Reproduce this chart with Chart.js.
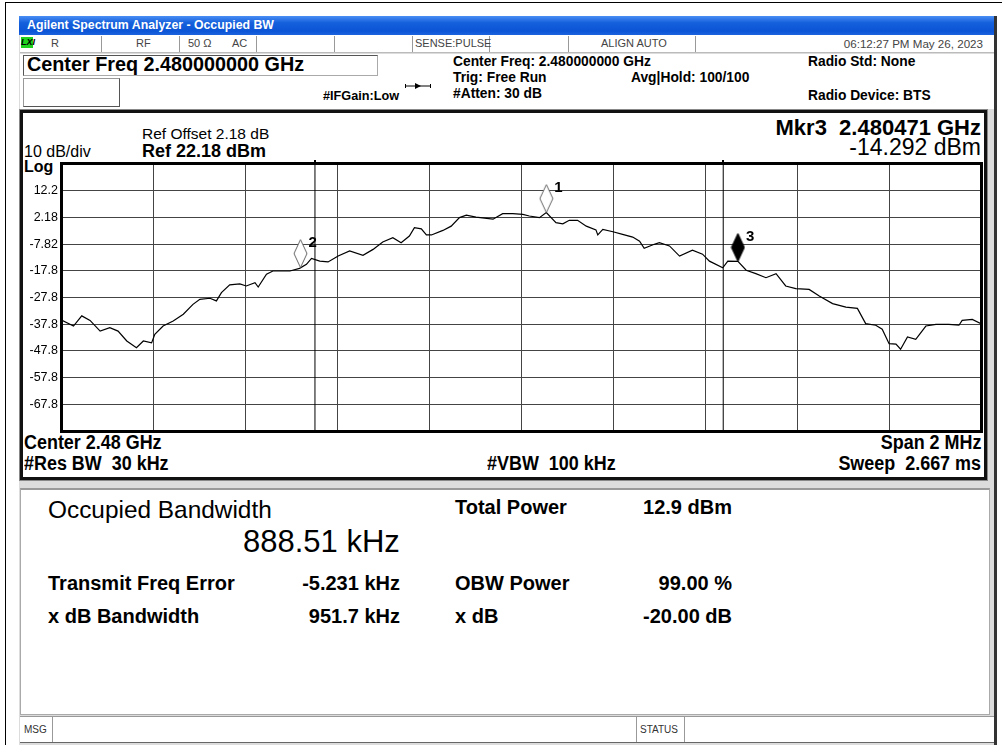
<!DOCTYPE html>
<html>
<head>
<meta charset="utf-8">
<title>Occupied BW</title>
<script src="https://cdn.jsdelivr.net/npm/chart.js@4.4.1/dist/chart.umd.min.js"></script>
<style>
body{margin:0;width:1002px;height:745px;background:#fff;position:relative;overflow:hidden;font-family:"Liberation Sans",Arial,sans-serif;color:#000;}
.t{position:absolute;white-space:pre;line-height:1;}
.b{font-weight:bold;}
.n{font-size:19.5px;font-weight:bold;transform:scaleX(0.92);transform-origin:left center;}
.nr{transform-origin:right center;}
.box{position:absolute;box-sizing:border-box;}
</style>
</head>
<body>
<!-- outer page lines -->
<div class="box" style="left:5px;top:2px;width:1000px;height:750px;border-left:1px solid #000;border-top:1px solid #000;"></div>
<!-- analyzer window -->
<div class="box" style="left:19px;top:16px;width:978px;height:735px;background:#dcdcdc;border-right:3px solid #333;"></div>
<div class="box" style="left:19px;top:16px;width:975px;height:19px;background:linear-gradient(#4a8ef5,#1560dc 35%,#0b55d6 80%,#1b62de);"></div>
<div class="t b" style="left:27px;top:19px;font-size:12.3px;color:#fff;">Agilent Spectrum Analyzer - Occupied BW</div>
<!-- status row -->
<div class="box" style="left:20px;top:35px;width:974px;height:18px;background:#fff;border-bottom:1px solid #bbb;"></div>
<div class="box" style="left:21px;top:37px;width:12px;height:11px;background:#1ed21e;"></div>
<div class="t b" style="left:21px;top:38px;font-size:9px;font-style:italic;">LXI</div>
<div class="box" style="left:101px;top:36px;width:1px;height:16px;background:#999;"></div>
<div class="box" style="left:179px;top:36px;width:1px;height:16px;background:#999;"></div>
<div class="box" style="left:256px;top:36px;width:1px;height:16px;background:#999;"></div>
<div class="box" style="left:334px;top:36px;width:1px;height:16px;background:#999;"></div>
<div class="box" style="left:412px;top:36px;width:1px;height:16px;background:#999;"></div>
<div class="box" style="left:489px;top:36px;width:1px;height:16px;background:#999;"></div>
<div class="box" style="left:568px;top:36px;width:1px;height:16px;background:#999;"></div>
<div class="box" style="left:695px;top:36px;width:1px;height:16px;background:#999;"></div>
<div class="t" style="left:51px;top:38px;font-size:11px;color:#444;">R</div>
<div class="t" style="left:136px;top:38px;font-size:11px;color:#444;">RF</div>
<div class="t" style="left:188px;top:38px;font-size:11px;color:#444;">50 Ω</div>
<div class="t" style="left:232px;top:38px;font-size:11px;color:#444;">AC</div>
<div class="t" style="left:415px;top:38px;font-size:11px;color:#444;">SENSE:PULSE</div>
<div class="t" style="left:601px;top:38px;font-size:11px;color:#444;">ALIGN AUTO</div>
<div class="t" style="right:19px;top:38px;font-size:11.6px;color:#444;">06:12:27 PM May 26, 2023</div>
<!-- header area -->
<div class="box" style="left:20px;top:54px;width:974px;height:55px;background:#fff;"></div>
<div class="box" style="left:23px;top:55px;width:355px;height:21px;border:1px solid #555;border-right-color:#aaa;border-bottom-color:#aaa;"></div>
<div class="t b" style="left:27px;top:55px;font-size:19.8px;">Center Freq 2.480000000 GHz</div>
<div class="box" style="left:23px;top:78px;width:97px;height:29px;border:1px solid #999;border-right-color:#555;border-bottom-color:#555;"></div>
<div class="t b" style="left:323px;top:90px;font-size:12.7px;">#IFGain:Low</div>
<svg class="box" style="left:404px;top:80px;" width="28" height="12"><line x1="1" y1="6" x2="27" y2="6" stroke="#000" stroke-width="1"/><path d="M11 3 L17 6 L11 9 Z" fill="#000"/><line x1="1.5" y1="4" x2="1.5" y2="8" stroke="#000"/><line x1="26.5" y1="4" x2="26.5" y2="8" stroke="#000"/></svg>
<div class="t b" style="left:453px;top:55px;font-size:13.8px;">Center Freq: 2.480000000 GHz</div>
<div class="t b" style="left:453px;top:71px;font-size:13.8px;">Trig: Free Run</div>
<div class="t b" style="left:453px;top:87px;font-size:13.8px;">#Atten: 30 dB</div>
<div class="t b" style="left:631px;top:71px;font-size:13.8px;">Avg|Hold: 100/100</div>
<div class="t b" style="left:808px;top:55px;font-size:13.8px;">Radio Std: None</div>
<div class="t b" style="left:808px;top:89px;font-size:13.8px;">Radio Device: BTS</div>
<!-- chart panel -->
<div class="box" style="left:20px;top:110px;width:967px;height:370px;background:#fff;border:3px solid #111;box-shadow:0 0 0 1px #888;"></div>
<div class="t" style="left:142px;top:126px;font-size:15.5px;">Ref Offset 2.18 dB</div>
<div class="t b" style="left:142px;top:142px;font-size:18px;">Ref 22.18 dBm</div>
<div class="t" style="left:24px;top:144px;font-size:16px;">10 dB/div</div>
<div class="t b" style="left:24px;top:159px;font-size:16px;">Log</div>
<div class="t b" style="right:21px;top:117px;font-size:22px;">Mkr3  2.480471 GHz</div>
<div class="t" style="right:21px;top:136px;font-size:23px;">-14.292 dBm</div>
<div class="t n" style="left:24px;top:433px;">Center 2.48 GHz</div>
<div class="t n" style="left:24px;top:454px;">#Res BW  30 kHz</div>
<div class="t n" style="left:487px;top:454px;">#VBW  100 kHz</div>
<div class="t n nr" style="right:21px;top:433px;">Span 2 MHz</div>
<div class="t n nr" style="right:21px;top:454px;">Sweep  2.667 ms</div>
<canvas id="spec" width="970" height="285" style="position:absolute;left:20px;top:155px;"></canvas>
<!-- results panel -->
<div class="box" style="left:20px;top:488px;width:970px;height:227px;background:#fff;border:1px solid #aaa;border-top:2px solid #999;"></div>
<div class="t" style="left:48px;top:498px;font-size:24.4px;">Occupied Bandwidth</div>
<div class="t" style="left:243px;top:526px;font-size:31px;">888.51 kHz</div>
<div class="t b" style="left:455px;top:497px;font-size:20px;">Total Power</div>
<div class="t b" style="right:270px;top:497px;font-size:20px;">12.9 dBm</div>
<div class="t b" style="left:48px;top:573px;font-size:20px;">Transmit Freq Error</div>
<div class="t b" style="right:602px;top:573px;font-size:20px;">-5.231 kHz</div>
<div class="t b" style="left:455px;top:573px;font-size:20px;">OBW Power</div>
<div class="t b" style="right:270px;top:573px;font-size:20px;">99.00 %</div>
<div class="t b" style="left:48px;top:606px;font-size:20px;">x dB Bandwidth</div>
<div class="t b" style="right:602px;top:606px;font-size:20px;">951.7 kHz</div>
<div class="t b" style="left:455px;top:606px;font-size:20px;">x dB</div>
<div class="t b" style="right:270px;top:606px;font-size:20px;">-20.00 dB</div>
<!-- message bar -->
<div class="box" style="left:20px;top:716px;width:974px;height:27px;background:#fff;border-top:1px solid #999;border-bottom:1px solid #666;"></div>
<div class="box" style="left:52px;top:717px;width:1px;height:25px;background:#999;"></div>
<div class="box" style="left:636px;top:717px;width:1px;height:25px;background:#999;"></div>
<div class="box" style="left:684px;top:717px;width:1px;height:25px;background:#999;"></div>
<div class="t" style="left:24px;top:725px;font-size:10px;color:#333;">MSG</div>
<div class="t" style="left:640px;top:725px;font-size:10px;color:#333;">STATUS</div>

<script>
// trace, offset from center freq in kHz / level in dBm
const traceKHz = [-1000, -975, -957, -939, -917, -896, -878, -859, -838, -823, -805, -798, -780, -758, -736,
  -715, -700, -678, -664, -653, -635, -613, -599, -580, -573, -555, -541, -522, -504, -483, -468, -457, -439,
  -421, -399, -374, -345, -323, -302, -280, -262, -244, -233, -218, -207, -196, -171, -153, -135, -120, -99,
  -62, -41, -19, 3, 17, 39, 54, 75, 90, 104, 122, 141, 162, 166, 177, 199, 220, 242, 257, 267, 289, 300,
  322, 344, 372, 394, 409, 438, 449, 471, 489, 510, 532, 554, 575, 597, 626, 648, 677, 706, 731, 749,
  771, 785, 800, 815, 825, 840, 858, 880, 902, 930, 952, 959, 981, 1000];
const traceDbm = [-36.4, -38.5, -34.7, -36.4, -40.4, -39.1, -40.4, -44.1, -46.6, -44.1, -44.8, -41.6, -38.5, -36.6, -34.1,
  -30.4, -28.5, -28.1, -29.1, -26.0, -23.1, -22.7, -23.5, -22.3, -23.9, -19.1, -17.9, -17.9, -17.9, -16.9, -15.4, -13.2, -14.2,
  -14.5, -12.3, -10.4, -12.0, -9.8, -7.0, -5.4, -7.3, -4.8, -1.7, -2.1, -4.4, -4.4, -2.7, -1.1, 2.1, 3.0, 2.3,
  1.5, 3.6, 3.6, 3.3, 2.7, 2.1, 4.0, 0.2, -0.2, 1.1, 1.1, -1.1, -2.5, -4.4, -2.3, -3.2, -4.2, -5.2, -6.7, -9.4, -7.9, -7.3,
  -8.5, -12.3, -10.1, -11.6, -14.2, -16.7, -14.2, -14.3, -17.6, -18.9, -20.4, -18.9, -23.5, -24.5, -24.8, -27.3, -30.1, -31.4, -31.9, -37.6,
  -38.2, -39.7, -45.1, -45.3, -47.2, -42.6, -43.5, -38.5, -37.9, -37.9, -38.2, -36.4, -36.0, -37.6];

const markerNames = ['1', '2', '3'];
const markerKHz = [54, -481, 471];
const markerDbm = [4.0, -16.6, -14.292];
const markerFilled = [false, false, true];

// OBW edges: freq error -5.231 kHz, OBW 888.51 kHz
const obwEdgeKHz = [-449.5, 439.0];

const yTickValues = [-77.82, -67.82, -57.82, -47.82, -37.82, -27.82, -17.82, -7.82, 2.18, 12.18, 22.18];
const yTickLabels = ['', '-67.8', '-57.8', '-47.8', '-37.8', '-27.8', '-17.8', '-7.82', '2.18', '12.2', ''];
const yMin = -77.82, yMax = 22.18;
const xMin = -1000, xMax = 1000, xStep = 200;

function diamond(filled) {
  const c = document.createElement('canvas');
  c.width = 15; c.height = 58;
  const g = c.getContext('2d');
  g.beginPath();
  g.moveTo(7.5, 1); g.lineTo(14, 15); g.lineTo(7.5, 29); g.lineTo(1, 15); g.closePath();
  g.fillStyle = filled ? '#000' : '#fff';
  g.fill();
  g.strokeStyle = filled ? '#000' : '#666';
  g.lineWidth = 1;
  g.stroke();
  return c;
}

const traceData = traceKHz.map((x, i) => ({x: x, y: traceDbm[i]}));
const markerData = markerKHz.map((x, i) => ({x: x, y: markerDbm[i]}));
const obwSets = obwEdgeKHz.map(x => ({
  data: [{x: x, y: yMin}, {x: x, y: yMax}],
  showLine: true, borderColor: '#000', borderWidth: 1, pointRadius: 0, order: 3
}));

const frame = {
  id: 'frame',
  afterDatasetsDraw(chart) {
    const ctx = chart.ctx, a = chart.chartArea;
    // marker numbers
    const meta = chart.getDatasetMeta(1);
    ctx.save();
    ctx.font = 'bold 15px "Liberation Sans", Arial';
    ctx.fillStyle = '#000';
    ctx.textBaseline = 'middle';
    meta.data.forEach((p, i) => {
      ctx.fillText(markerNames[i], p.x + 8, p.y - 25);
    });
    // plot frame
    ctx.strokeStyle = '#000';
    ctx.lineWidth = 3;
    ctx.strokeRect(a.left - 0.5, a.top - 0.5, a.right - a.left + 1, a.bottom - a.top + 1);
    // small ticks above the OBW lines
    chart.data.datasets.slice(2).forEach(ds => {
      const px = Math.round(chart.scales.x.getPixelForValue(ds.data[0].x));
      ctx.fillRect(px - 1, a.top - 4, 2, 2);
    });
    ctx.restore();
  }
};

new Chart(document.getElementById('spec'), {
  type: 'scatter',
  data: {
    datasets: [
      {data: traceData, showLine: true, borderColor: '#000', borderWidth: 1.2, pointRadius: 0, tension: 0, order: 1},
      {data: markerData, pointStyle: markerFilled.map(f => diamond(f)), pointRadius: 8, order: 0},
      ...obwSets
    ]
  },
  options: {
    responsive: false,
    animation: false,
    events: [],
    layout: {padding: {left: 0, top: 8, right: 8, bottom: 4}},
    plugins: {legend: {display: false}, tooltip: {enabled: false}},
    scales: {
      x: {
        type: 'linear', min: xMin, max: xMax,
        ticks: {display: false, stepSize: xStep},
        grid: {color: '#444', lineWidth: 1, drawTicks: false},
        border: {display: false},
        afterFit(s) { s.height = 0; s.paddingLeft = 0; s.paddingRight = 0; }
      },
      y: {
        min: yMin, max: yMax,
        afterBuildTicks(s) { s.ticks = yTickValues.map(v => ({value: v})); },
        ticks: {
          padding: 4, color: '#000',
          font: {family: '"Liberation Sans", Arial', size: 12.5},
          callback: (v, i) => yTickLabels[i]
        },
        grid: {color: '#444', lineWidth: 1, drawTicks: false},
        border: {display: false},
        afterFit(s) { s.width = 42; s.paddingTop = 0; s.paddingBottom = 0; }
      }
    }
  },
  plugins: [frame]
});
</script>
</body>
</html>
